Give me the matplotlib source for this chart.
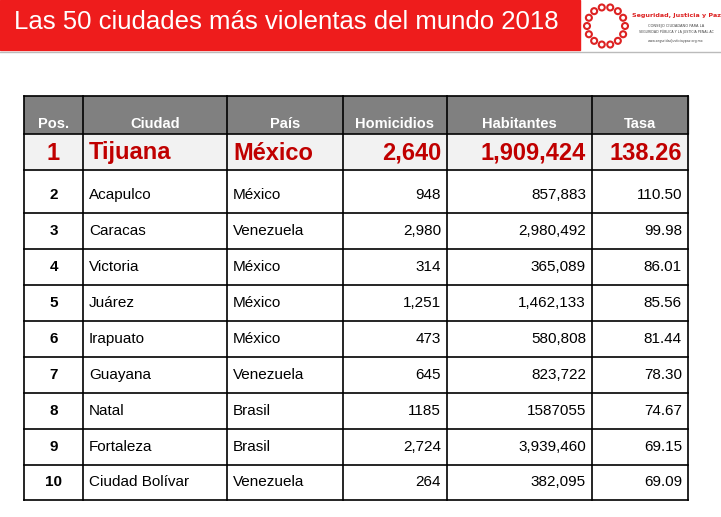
import numpy as np
import matplotlib.pyplot as plt
from matplotlib.patches import Rectangle, Circle

pos = ['1', '2', '3', '4', '5', '6', '7', '8', '9', '10']
ciudad = ['Tijuana', 'Acapulco', 'Caracas', 'Victoria', 'Juárez', 'Irapuato',
          'Guayana', 'Natal', 'Fortaleza', 'Ciudad Bolívar']
pais = ['México', 'México', 'Venezuela', 'México', 'México', 'México',
        'Venezuela', 'Brasil', 'Brasil', 'Venezuela']
homicidios = ['2,640', '948', '2,980', '314', '1,251', '473', '645', '1185', '2,724', '264']
habitantes = ['1,909,424', '857,883', '2,980,492', '365,089', '1,462,133', '580,808',
              '823,722', '1587055', '3,939,460', '382,095']
tasa = ['138.26', '110.50', '99.98', '86.01', '85.56', '81.44', '78.30', '74.67', '69.15', '69.09']
headers = ['Pos.', 'Ciudad', 'País', 'Homicidios', 'Habitantes', 'Tasa']

W, H = 721, 517
fig = plt.figure(figsize=(W / 100, H / 100), dpi=100)
ax = fig.add_axes([0, 0, 1, 1])
ax.set_xlim(0, W)
ax.set_ylim(H, 0)
ax.axis('off')

# title band
ax.add_patch(Rectangle((0, 0), 580, 50, color='#ee1c1c'))
ax.text(14, 22, 'Las 50 ciudades más violentas del mundo 2018', color='white',
        fontsize=18.5, va='center', ha='left', family='Liberation Sans')
# logo
for i in range(14):
    a = 2 * np.pi * i / 14
    ax.add_patch(Circle((606 + 19 * np.cos(a), 26 + 19 * np.sin(a)), 3, color='#dd2222', fill=False, lw=1.5))
ax.text(676, 17, 'Seguridad, Justicia y Paz', color='#dd2222', fontsize=4.6, fontweight='bold', ha='center')
ax.text(676, 27, 'CONSEJO CIUDADANO PARA LA', color='#444444', fontsize=2.6, ha='center')
ax.text(676, 33, 'SEGURIDAD PÚBLICA Y LA JUSTICIA PENAL AC', color='#444444', fontsize=2.3, ha='center')
ax.text(676, 42, 'www.seguridadjusticiaypaz.org.mx', color='#444444', fontsize=2.3, ha='center')
ax.plot([0, W], [52, 52], color='#bbbbbb', lw=1)

cols = [24, 83, 227, 343, 447, 592, 688]
rows = [96, 134, 170, 213, 249, 285, 321, 357, 393, 429, 465, 500]
ax.add_patch(Rectangle((cols[0], rows[0]), cols[-1] - cols[0], rows[1] - rows[0], color='#808080'))
ax.add_patch(Rectangle((cols[0], rows[1]), cols[-1] - cols[0], rows[2] - rows[1], color='#f2f2f2'))
for y in rows:
    ax.plot([cols[0], cols[-1]], [y, y], color='black', lw=1.2)
for x in cols:
    ax.plot([x, x], [rows[0], rows[-1]], color='black', lw=1.2)

font = 'Liberation Sans'
for j, h in enumerate(headers):
    ax.text((cols[j] + cols[j + 1]) / 2, 124, h, color='white', fontsize=10.5,
            fontweight='bold', ha='center', va='center', family=font)

data = [pos, ciudad, pais, homicidios, habitantes, tasa]
align = ['center', 'left', 'left', 'right', 'right', 'right']
for i in range(len(pos)):
    if i == 0:
        y = 153
    elif i == 1:
        y = 195
    else:
        y = (rows[i + 1] + rows[i + 2]) / 2
    for j in range(6):
        if align[j] == 'center':
            x = (cols[j] + cols[j + 1]) / 2
        elif align[j] == 'left':
            x = cols[j] + 6
        else:
            x = cols[j + 1] - 6
        if i == 0:
            ax.text(x, y, data[j][i], color='#c00000', fontsize=17, fontweight='bold',
                    ha=align[j], va='center', family=font)
        else:
            ax.text(x, y, data[j][i], color='black', fontsize=11,
                    fontweight='bold' if j == 0 else 'normal',
                    ha=align[j], va='center', family=font)

fig.savefig('out.png', dpi=100)
